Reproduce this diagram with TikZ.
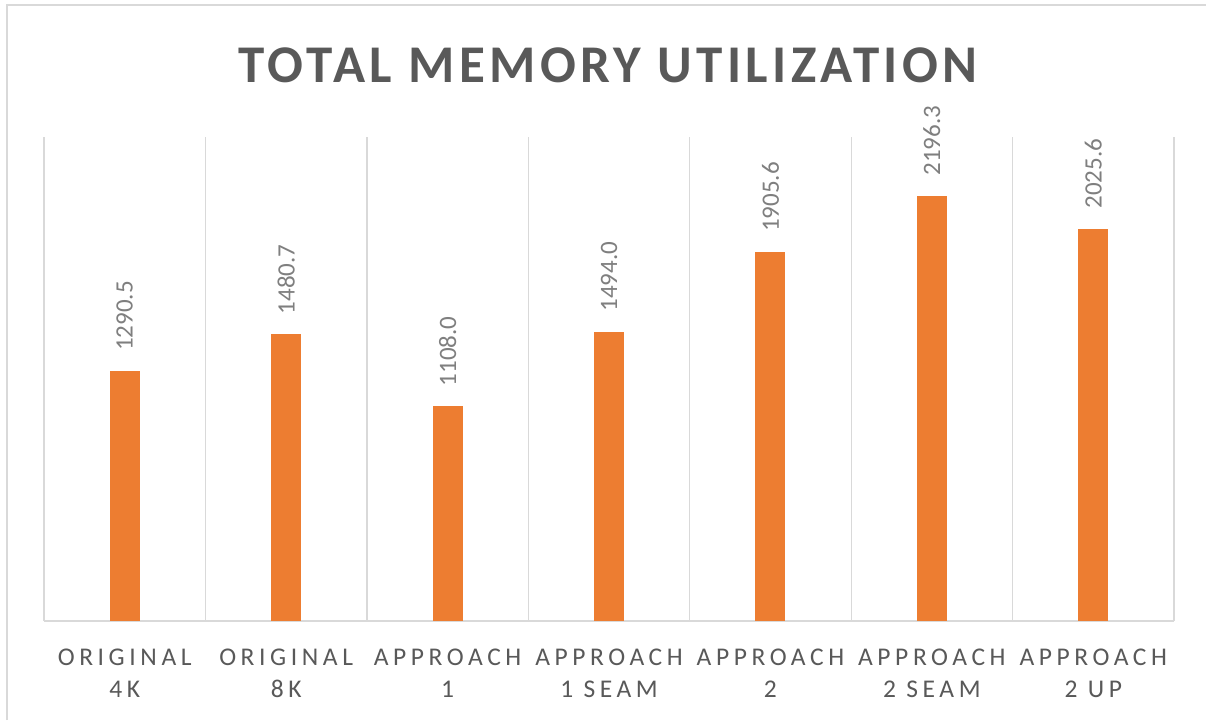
\documentclass[tikz,border=0pt]{standalone}
\usepackage{fontspec}
\setmainfont{Carlito}
\newfontfamily\titlefont[LetterSpace=8.3]{Carlito}
\newfontfamily\catfont[LetterSpace=18]{Carlito}
\definecolor{barorange}{HTML}{ED7D31}
\definecolor{textgrey}{HTML}{595959}
\definecolor{valgrey}{HTML}{7F7F7F}
\definecolor{gridgrey}{HTML}{D9D9D9}
\tikzset{
  frameline/.style={gridgrey, line width=2pt},
  gridline/.style={gridgrey, line width=1.3pt},
  bar/.style={fill=barorange},
  vallabel/.style={rotate=90, anchor=west, inner sep=0pt, text=valgrey,
    font=\fontsize{25}{30}\selectfont},
  catlabel/.style={anchor=base, inner sep=0pt, text=textgrey,
    font=\catfont\fontsize{25.5}{30}\selectfont},
  charttitle/.style={anchor=base, inner sep=0pt, text=textgrey,
    font=\titlefont\bfseries\fontsize{53}{60}\selectfont}
}
\begin{document}
\begin{tikzpicture}[x=1pt, y=-1pt]
  \useasboundingbox (0,0) rectangle (1206,720);
  \fill[white] (0,0) rectangle (1206,720);
  % chart frame (left and top edges)
  \draw[frameline] (7,720) -- (7,5) -- (1206,5);
  % title
  \node[charttitle] (title) at (608,82) {TOTAL MEMORY UTILIZATION};
  % category separators and axis
  \foreach \i in {0,...,7}
    \draw[gridline] ({44+161.43*\i},137) -- ({44+161.43*\i},621);
  \coordinate (axisL) at (44,621);
  \coordinate (axisR) at (1174,621);
  \draw[gridline] (axisL) -- (axisR);
  % bars with value labels
  \foreach \v/\top/\bot [count=\i] in {
      1290.5/ORIGINAL/4K,
      1480.7/ORIGINAL/8K,
      1108.0/APPROACH/1,
      1494.0/APPROACH/1 SEAM,
      1905.6/APPROACH/2,
      2196.3/APPROACH/2 SEAM,
      2025.6/APPROACH/2 UP} {
    \pgfmathsetmacro{\cx}{44+161.43*(\i-0.5)}
    \pgfmathsetmacro{\ty}{621-0.1936*\v}
    \fill[bar] (\cx-15,\ty) rectangle (\cx+15,621);
    \node[vallabel] (val\i) at (\cx,\ty-20) {\v};
    \node[catlabel] (catA\i) at (\cx,665) {\top};
    \node[catlabel] (catB\i) at (\cx,697) {\bot};
  }
\end{tikzpicture}
\end{document}
